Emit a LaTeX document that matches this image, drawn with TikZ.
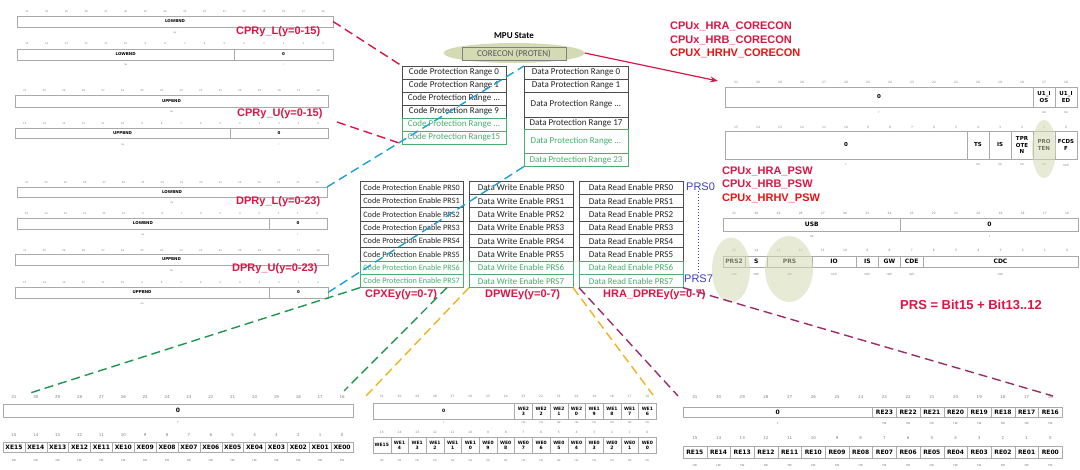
\documentclass[tikz,border=0pt]{standalone}
\usepackage{fontspec}
\setmainfont{DejaVu Sans}
\newfontfamily\calfont{Carlito}
\newfontfamily\arfont{Liberation Sans}
\usetikzlibrary{positioning,shapes.geometric,arrows.meta}

\definecolor{lblred}{RGB}{218,22,70}
\definecolor{hotred}{RGB}{232,20,20}
\definecolor{boxgreen}{RGB}{72,175,110}
\definecolor{prsblue}{RGB}{60,60,200}
\definecolor{olivefill}{RGB}{212,219,180}
\definecolor{linkblue}{RGB}{30,160,215}
\definecolor{linkgreen}{RGB}{30,150,80}
\definecolor{linkyellow}{RGB}{240,180,30}
\definecolor{linkpurple}{RGB}{155,45,110}
\definecolor{regline}{RGB}{170,170,170}

% name, x0, bit width, y, top bit, size
\newcommand{\bitrow}[6]{%
  \foreach \i in {0,...,15} {
    \pgfmathtruncatemacro{\bn}{#5-\i}
    \node[bit num, font=\fontsize{#6}{#6}\selectfont] (#1-b\i) at ({#2+(\i+0.5)*#3}, #4) {\bn};
  }}
% name, x0, bit width, top, bottom, access y, size, access size, fields
\newcommand{\fieldrow}[9]{%
  \foreach \fa/\fb/\lbl/\acc in {#9} {
    \node[reg cell, font=\bfseries\fontsize{#7}{1.15\dimexpr#7pt\relax}\selectfont,
          minimum width={(\fb-\fa)*#3*1pt}, minimum height={(#5-#4)*1pt}]
          (#1-\fa) at ({#2+\fa*#3}, #4) {\lbl};
    \node[acc text, font=\fontsize{#8}{#8}\selectfont] (#1-r\fa) at ({#2+(\fa+\fb)/2*#3}, #6) {\acc};
  }}

\begin{document}
\begin{tikzpicture}[x=1pt, y=-1pt,
    reg cell/.style={draw=regline, inner sep=0pt, outer sep=0pt, align=center, anchor=north west},
    bit num/.style={text=gray, inner sep=0pt},
    acc text/.style={text=gray, inner sep=0pt},
    range node/.style={draw=gray!60!black, text=black!85, minimum width=104pt, minimum height=13pt,
                       inner sep=0pt, outer sep=0pt, font=\calfont\fontsize{9}{10}\selectfont},
    green node/.style={range node, draw=boxgreen, text=boxgreen},
    enable node/.style={range node, minimum width=103pt, minimum height=13.33pt, font=\calfont\fontsize{8.2}{9}\selectfont},
    green enable/.style={enable node, draw=boxgreen, text=boxgreen},
    wide node/.style={range node, minimum height=13.33pt},
    green wide/.style={wide node, draw=boxgreen, text=boxgreen},
    reg label/.style={text=lblred, inner sep=0pt, anchor=west, font=\arfont\bfseries\fontsize{11}{13.5}\selectfont},
    prs label/.style={text=prsblue, inner sep=0pt, anchor=west, font=\arfont\fontsize{11}{13}\selectfont},
    hilite/.style={ellipse, fill=olivefill, fill opacity=0.55, inner sep=0pt},
    link/.style={dash pattern=on 9pt off 5pt, line width=1.4pt}]

  \path[fill=white, use as bounding box] (0,0) rectangle (1080,470);

  \bitrow{cprlhi}{17}{19.75}{12}{31}{2.5}
  \fieldrow{cprlhi}{17}{19.75}{16}{27}{33}{4}{2.5}{0/16/LOWBND/rw}
  \bitrow{cprllo}{17}{19.75}{44}{15}{2.5}
  \fieldrow{cprllo}{17}{19.75}{49}{60}{65}{4}{2.5}{0/11/LOWBND/rw,11/16/0/r}
  \bitrow{cpruhi}{15}{19.56}{91}{31}{2.5}
  \fieldrow{cpruhi}{15}{19.56}{95}{107}{112}{4}{2.5}{0/16/UPPBND/rw}
  \bitrow{cprulo}{15}{19.56}{124}{15}{2.5}
  \fieldrow{cprulo}{15}{19.56}{128}{138}{145}{4}{2.5}{0/11/UPPBND/rw,11/16/0/r}

  \bitrow{dprlhi}{17}{19.375}{183}{31}{2.5}
  \fieldrow{dprlhi}{17}{19.375}{187}{197}{203}{4}{2.5}{0/16/LOWBND/rw}
  \bitrow{dprllo}{17}{19.375}{214}{15}{2.5}
  \fieldrow{dprllo}{17}{19.375}{218}{229}{235}{4}{2.5}{0/13/LOWBND/rw,13/16/0/r}
  \bitrow{dpruhi}{15}{19.56}{251}{31}{2.5}
  \fieldrow{dpruhi}{15}{19.56}{254}{265}{271}{4}{2.5}{0/16/UPPBND/rw}
  \bitrow{dprulo}{15}{19.56}{283}{15}{2.5}
  \fieldrow{dprulo}{15}{19.56}{287}{298}{304}{4}{2.5}{0/13/UPPBND/rw,13/16/0/r}

  \bitrow{conhi}{725}{22}{82}{31}{3}
  \fieldrow{conhi}{725}{22}{87}{107}{113}{5.5}{3}{0/14/0/r,14/15/U1\_I\\OS/rw,15/16/U1\_I\\ED/rw}
  \bitrow{conlo}{725}{22}{127}{15}{3}
  \fieldrow{conlo}{725}{22}{131}{159}{165}{5.5}{3}{0/11/0/r,11/12/TS/rw,12/13/IS/rw,13/14/TPR\\OTE\\N/rw,14/15/PRO\\TEN/rw,15/16/FCDS\\F/rwh}

  \bitrow{pswhi}{723}{22.2}{213}{31}{3}
  \fieldrow{pswhi}{723}{22.2}{218}{231}{237}{6}{3}{0/8/USB/rw,8/16/0/r}
  \bitrow{pswlo}{723}{22.2}{250}{15}{3}
  \fieldrow{pswlo}{723}{22.2}{256}{267}{274}{6}{3}{0/1/PRS2/rwh,1/2/S/rwh,2/4/PRS/rwh,4/6/IO/rwh,6/7/IS/rwh,7/8/GW/rwh,8/9/CDE/rwh,9/16/CDC/rwh}

  \bitrow{cpxhi}{3}{21.875}{397}{31}{4}
  \fieldrow{cpxhi}{3}{21.875}{404}{417}{423}{6}{3.5}{0/16/0/r}
  \bitrow{cpxlo}{3}{21.875}{435}{15}{4}
  \fieldrow{cpxlo}{3}{21.875}{442}{452}{461}{6}{3.5}{0/1/XE15/rw,1/2/XE14/rw,2/3/XE13/rw,3/4/XE12/rw,4/5/XE11/rw,5/6/XE10/rw,6/7/XE09/rw,7/8/XE08/rw,8/9/XE07/rw,9/10/XE06/rw,10/11/XE05/rw,11/12/XE04/rw,12/13/XE03/rw,13/14/XE02/rw,14/15/XE01/rw,15/16/XE00/rw}

  \bitrow{dpwhi}{373}{17.7}{396}{31}{3}
  \fieldrow{dpwhi}{373}{17.7}{403}{419}{423}{4.5}{3}{0/8/0/r,8/9/WE2\\3/rw,9/10/WE2\\2/rw,10/11/WE2\\1/rw,11/12/WE2\\0/rw,12/13/WE1\\9/rw,13/14/WE1\\8/rw,14/15/WE1\\7/rw,15/16/WE1\\6/rw}
  \bitrow{dpwlo}{373}{17.7}{432}{15}{3}
  \fieldrow{dpwlo}{373}{17.7}{437}{453}{461}{4.5}{3}{0/1/WE15/rw,1/2/WE1\\4/rw,2/3/WE1\\3/rw,3/4/WE1\\2/rw,4/5/WE1\\1/rw,5/6/WE1\\0/rw,6/7/WE0\\9/rw,7/8/WE0\\8/rw,8/9/WE0\\7/rw,9/10/WE0\\6/rw,10/11/WE0\\5/rw,11/12/WE0\\4/rw,12/13/WE0\\3/rw,13/14/WE0\\2/rw,14/15/WE0\\1/rw,15/16/WE0\\0/rw}

  \bitrow{drehi}{683}{23.7}{397}{31}{4}
  \fieldrow{drehi}{683}{23.7}{407}{417}{424}{6}{3.5}{0/8/0/r,8/9/RE23/rw,9/10/RE22/rw,10/11/RE21/rw,11/12/RE20/rw,12/13/RE19/rw,13/14/RE18/rw,14/15/RE17/rw,15/16/RE16/rw}
  \bitrow{drelo}{683}{23.7}{438}{15}{4}
  \fieldrow{drelo}{683}{23.7}{446}{458}{466}{6}{3.5}{0/1/RE15/rw,1/2/RE14/rw,2/3/RE13/rw,3/4/RE12/rw,4/5/RE11/rw,5/6/RE10/rw,6/7/RE09/rw,7/8/RE08/rw,8/9/RE07/rw,9/10/RE06/rw,10/11/RE05/rw,11/12/RE04/rw,12/13/RE03/rw,13/14/RE02/rw,14/15/RE01/rw,15/16/RE00/rw}

  \node[hilite, minimum width=24pt, minimum height=58pt] (protenmark) at (1044,149) {};
  \node[hilite, minimum width=38pt, minimum height=65pt] (prs2mark) at (731,270) {};
  \node[hilite, minimum width=48pt, minimum height=66pt] (prsmark) at (789,269) {};

  \node[font=\calfont\bfseries\fontsize{9}{10}\selectfont, inner sep=0pt] (mputitle) at (514,36) {MPU State};
  \node[ellipse, fill=olivefill, minimum width=141pt, minimum height=20pt, inner sep=0pt] (mpu) at (514,53) {};
  \node[draw=gray, text=gray!70!black, minimum width=104pt, minimum height=13pt, inner sep=0pt,
        font=\calfont\fontsize{9}{10}\selectfont] (corecon) at (514,53.5) {CORECON (PROTEN)};

  \node[range node] (cpr0) at (454,72.5) {Code Protection Range 0};
  \node[range node, below=0pt of cpr0] (cpr1) {Code Protection Range 1};
  \node[range node, below=0pt of cpr1] (cpr2) {Code Protection Range ...};
  \node[range node, below=0pt of cpr2] (cpr9) {Code Protection Range 9};
  \node[green node, below=0pt of cpr9] (cpr10) {Code Protection Range ...};
  \node[green node, below=0pt of cpr10] (cpr15) {Code Protection Range15};

  \node[range node] (dpr0) at (576,72.5) {Data Protection Range 0};
  \node[range node, below=0pt of dpr0] (dpr1) {Data Protection Range 1};
  \node[range node, below=0pt of dpr1, minimum height=25pt] (dpr2) {Data Protection Range ...};
  \node[range node, below=0pt of dpr2, minimum height=12.5pt] (dpr17) {Data Protection Range 17};
  \node[green node, below=0pt of dpr17, minimum height=24pt] (dpr18) {Data Protection Range ...};
  \node[green node, below=0pt of dpr18] (dpr23) {Data Protection Range 23};

  \foreach \k in {0,...,5} {
    \node[enable node] (cpe\k) at (411.5,{187.7+13.33*\k}) {Code Protection Enable PRS\k};
    \node[wide node] (dwe\k) at (521,{187.7+13.33*\k}) {Data Write Enable PRS\k};
    \node[wide node] (dre\k) at (631,{187.7+13.33*\k}) {Data Read Enable PRS\k};
  }
  \foreach \k in {6,7} {
    \node[green enable] (cpe\k) at (411.5,{187.7+13.33*\k}) {Code Protection Enable PRS\k};
    \node[green wide] (dwe\k) at (521,{187.7+13.33*\k}) {Data Write Enable PRS\k};
    \node[green wide] (dre\k) at (631,{187.7+13.33*\k}) {Data Read Enable PRS\k};
  }

  \node[prs label] (prs0) at (686,187) {PRS0};
  \node[prs label] (prs7) at (684,279) {PRS7};
  \draw[prsblue, dotted, line width=1pt] (prs0.south -| prs7.north) -- (prs7.north);

  \node[reg label] (cprl) at (236,32) {CPRy\_L(y=0-15)};
  \node[reg label] (cpru) at (237,114) {CPRy\_U(y=0-15)};
  \node[reg label] (dprl) at (236,202) {DPRy\_L(y=0-23)};
  \node[reg label] (dpru) at (232,269) {DPRy\_U(y=0-23)};
  \node[reg label] (cpxe) at (365,295) {CPXEy(y=0-7)};
  \node[reg label] (dpwe) at (485,295) {DPWEy(y=0-7)};
  \node[reg label] (dpre) at (603,295) {HRA\_DPREy(y=0-7)};
  \node[reg label, align=left] (conlabel) at (670,40)
    {CPUx\_HRA\_CORECON\\CPUx\_HRB\_CORECON\\\textcolor{hotred}{CPUX\_HRHV\_CORECON}};
  \node[reg label, align=left] (pswlabel) at (722,184.5)
    {CPUx\_HRA\_PSW\\CPUx\_HRB\_PSW\\\textcolor{hotred}{CPUx\_HRHV\_PSW}};
  \node[reg label, font=\arfont\bfseries\fontsize{13}{15}\selectfont] (prsrule) at (900,305) {PRS = Bit15 + Bit13..12};

  \coordinate (cc-arrow) at (718,81);
  \draw[-{Stealth[length=8pt,width=6pt]}, lblred, line width=1.2pt] (mpu.east) -- (cc-arrow);

  \coordinate (cpru-end) at (337,122);
  \coordinate (cpx-left) at (27,394);
  \coordinate (cpx-right) at (344,391);
  \coordinate (dpw-left) at (366,396);
  \coordinate (dpw-right) at (653,395);
  \coordinate (dre-left) at (678,396);
  \coordinate (dre-right) at (1053,396);

  \draw[link, lblred] (cprlhi-0.east) -- (cpr0.north west);
  \draw[link, lblred] (cpru-end) -- (cpr15.south west);
  \draw[link, linkblue] (dprlhi-0.north east) -- (dpr0.north west);
  \draw[link, linkblue] (dprulo-13.east) -- (dpr23.south west);
  \draw[link, linkgreen] (cpe7.south west) -- (cpx-left);
  \draw[link, linkgreen] ([xshift=-16pt]cpe7.south east) -- (cpx-right);
  \draw[link, linkyellow] (dwe7.south west) -- (dpw-left);
  \draw[link, linkyellow] (dwe7.south east) -- (dpw-right);
  \draw[link, linkpurple] (dre7.south west) -- (dre-left);
  \draw[link, linkpurple] (dre7.south east) -- (dre-right);
\end{tikzpicture}
\end{document}
